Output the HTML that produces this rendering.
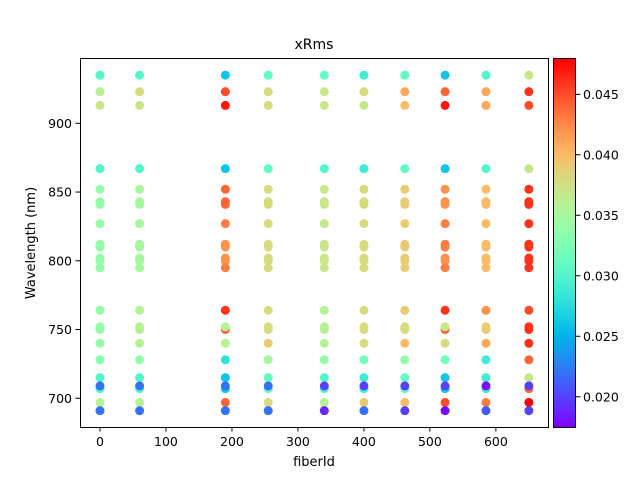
<!DOCTYPE html>
<html><head><meta charset="utf-8"><style>
body{margin:0;background:#fff;}
svg{display:block;font-family:"DejaVu Sans","Liberation Sans",sans-serif;}
</style></head><body>
<svg id="chart" width="640" height="480" viewBox="0 0 640 480" xmlns="http://www.w3.org/2000/svg">
<rect width="640" height="480" fill="#fff"/>
<defs><linearGradient id="cbg" x1="0" y1="1" x2="0" y2="0"></linearGradient></defs>
<text x="314" y="49" font-size="14" text-anchor="middle">xRms</text>
<g id="marks"></g>
<rect x="80.5" y="58.5" width="468" height="369" fill="none" stroke="#000" stroke-width="1"/>
<g id="xticks"></g><g id="yticks"></g>
<text x="314" y="466" font-size="13" text-anchor="middle">fiberId</text>
<text transform="translate(35,243) rotate(-90)" font-size="13" text-anchor="middle">Wavelength (nm)</text>
<rect x="553.5" y="58.5" width="22" height="369" fill="url(#cbg)" stroke="#000" stroke-width="1"/>
<g id="cticks"></g>
</svg>
<script>
const fibers=[0,60,190,255,340,400,462,523,585,650];
const wavelengths=[935,923,913,867,852,843,841,827,812,810,802,800,795,764,750,752,740,728,715,707,709,697,691];
const c0=[.030,.036,.037,.030,.034,.034,.034,.034,.034,.034,.034,.034,.034,.034,.034,.034,.034,.033,.030,.030,.022,.036,.022];
const c1=[.030,.038,.037,.030,.035,.035,.035,.035,.035,.035,.035,.035,.035,.036,.036,.036,.036,.034,.030,.030,.022,.036,.022];
const c2=[.026,.045,.047,.026,.044,.044,.044,.043,.042,.042,.042,.042,.043,.046,.044,.036,.036,.028,.026,.026,.022,.044,.022];
const c3=[.031,.038,.038,.031,.038,.038,.038,.038,.038,.038,.038,.038,.038,.038,.038,.038,.039,.035,.031,.031,.022,.038,.022];
const c4=[.031,.037,.037,.030,.037,.037,.037,.037,.037,.037,.037,.037,.037,.036,.036,.036,.036,.034,.030,.030,.020,.036,.019];
const c5=[.029,.038,.037,.029,.038,.038,.038,.038,.038,.038,.038,.038,.038,.038,.038,.038,.038,.032,.029,.029,.020,.039,.022];
const c6=[.031,.041,.040,.031,.039,.039,.039,.039,.039,.039,.039,.039,.039,.039,.038,.038,.040,.034,.031,.031,.020,.040,.020];
const c7=[.026,.044,.047,.026,.042,.042,.042,.043,.043,.043,.042,.042,.043,.046,.044,.037,.038,.032,.026,.026,.020,.045,.018];
const c8=[.030,.041,.041,.030,.040,.040,.040,.040,.040,.040,.040,.040,.040,.042,.039,.039,.041,.029,.029,.029,.018,.043,.021];
const c9=[.037,.046,.045,.037,.046,.046,.046,.046,.046,.046,.046,.046,.046,.045,.046,.046,.046,.044,.037,.044,.020,.048,.020];
const columns=[c0,c1,c2,c3,c4,c5,c6,c7,c8,c9];
const xTicks=[0,100,200,300,400,500,600];
const yTicks=[700,750,800,850,900];
const cTicks=[0.020,0.025,0.030,0.035,0.040,0.045];
const NS="http://www.w3.org/2000/svg";
const X0=80,X1=548,Y0=427,Y1=58;
const xmin=-30.3,xmax=679,ymin=679.1,ymax=947.5,cmin=0.0175,cmax=0.048;
const xs=v=>X0+(v-xmin)/(xmax-xmin)*(X1-X0);
const ys=v=>Y0-(v-ymin)/(ymax-ymin)*(Y0-Y1);
const cs=v=>427-(v-cmin)/(cmax-cmin)*369;
function rainbow(t){t=Math.max(0,Math.min(1,t));
 const r=Math.min(1,Math.abs(2*t-0.5)),g=Math.sin(Math.PI*t),b=Math.cos(Math.PI*t/2);
 return `rgb(${Math.round(r*255)},${Math.round(g*255)},${Math.round(b*255)})`;}
const cmap=v=>rainbow((v-cmin)/(cmax-cmin));
function mk(tag,attrs,parent,text){const e=document.createElementNS(NS,tag);for(const k in attrs)e.setAttribute(k,attrs[k]);if(text!==undefined)e.textContent=text;parent.appendChild(e);return e;}
const marks=document.getElementById('marks');
fibers.forEach((f,i)=>{wavelengths.forEach((w,j)=>{
 const c=mk('circle',{cx:xs(f),cy:ys(w),r:4.5,fill:cmap(columns[i][j])},marks);
 
 
});});
const xt=document.getElementById('xticks');
xTicks.forEach(v=>{const x=xs(v);
 const l=mk('line',{x1:x,x2:x,y1:427,y2:431.5,stroke:'#000'},xt);
 
 
 const t=mk('text',{x:x,y:446,'font-size':12.5,'text-anchor':'middle'},xt,String(v));
 
 });
const yt=document.getElementById('yticks');
yTicks.forEach(v=>{const y=ys(v);
 const l=mk('line',{x1:75.5,x2:80,y1:y,y2:y,stroke:'#000'},yt);
 
 
 const t=mk('text',{x:72,y:y+4.5,'font-size':12.5,'text-anchor':'end'},yt,String(v));
 
 });
const grad=document.getElementById('cbg');
for(let k=0;k<=20;k++){mk('stop',{offset:(k/20),'stop-color':rainbow(k/20)},grad);}
const ct=document.getElementById('cticks');
cTicks.forEach(v=>{const y=cs(v);
 const l=mk('line',{x1:576,x2:580.5,y1:y,y2:y,stroke:'#000'},ct);
 
 
 const t=mk('text',{x:583,y:y+4.5,'font-size':12.5},ct,v.toFixed(3));
 
 });
</script>
</body></html>
